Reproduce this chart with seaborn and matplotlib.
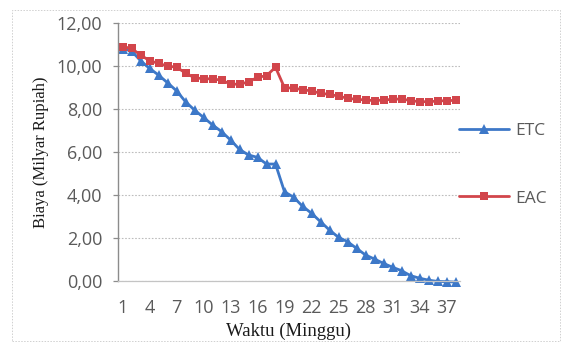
import numpy as np
import pandas as pd
import matplotlib
matplotlib.use("Agg")
import matplotlib.pyplot as plt
from matplotlib.ticker import FuncFormatter, FixedLocator
from matplotlib.patches import Rectangle
import seaborn as sns

# Weekly cost forecasts (billion rupiah)
weeks = list(range(1, 39))
etc = [10.80, 10.70, 10.25, 9.89, 9.58, 9.22, 8.85, 8.34, 7.95, 7.61,
       7.26, 6.95, 6.56, 6.12, 5.86, 5.75, 5.44, 5.44, 4.15, 3.90,
       3.48, 3.15, 2.76, 2.37, 2.03, 1.83, 1.52, 1.21, 1.02, 0.82,
       0.64, 0.48, 0.25, 0.13, 0.04, -0.02, -0.03, -0.05]
eac = [10.90, 10.82, 10.51, 10.25, 10.12, 10.00, 9.94, 9.68, 9.45, 9.41,
       9.40, 9.34, 9.16, 9.15, 9.26, 9.47, 9.55, 9.94, 8.99, 8.97,
       8.90, 8.84, 8.73, 8.68, 8.60, 8.50, 8.45, 8.42, 8.39, 8.42,
       8.45, 8.47, 8.39, 8.34, 8.34, 8.37, 8.39, 8.40]
xtick_weeks = list(range(1, 38, 3))
yticks = [0, 2, 4, 6, 8, 10, 12]

sns.set_theme(style="white")
plt.rcParams["font.family"] = ["Open Sans", "DejaVu Sans"]

df = pd.DataFrame({"Minggu": weeks, "ETC": etc, "EAC": eac})

fig = plt.figure(figsize=(5.64, 3.45), dpi=100)
fig.patch.set_facecolor("white")
ax = fig.add_axes([118 / 564, 1 - 281 / 345, 342 / 564, 258 / 345])

blue = "#3D78C8"
red = "#D2454B"
sns.lineplot(data=df, x="Minggu", y="ETC", ax=ax, color=blue, lw=2.0,
             marker="^", markersize=7.5, markeredgewidth=0, label="ETC",
             clip_on=False)
sns.lineplot(data=df, x="Minggu", y="EAC", ax=ax, color=red, lw=2.0,
             marker="s", markersize=5.3, markeredgewidth=0, label="EAC",
             clip_on=False)

ax.set_xlim(0.5, 38.5)
ax.set_ylim(0, 12)
ax.xaxis.set_major_locator(FixedLocator(xtick_weeks))
ax.set_yticks(yticks)
ax.yaxis.set_major_formatter(FuncFormatter(lambda v, p: f"{v:.2f}".replace(".", ",")))

ax.grid(axis="y", color="#BDBDBD", lw=0.8, linestyle=(0, (1.5, 1.5)))
ax.set_axisbelow(True)
for s in ["top", "right"]:
    ax.spines[s].set_visible(False)
ax.spines["left"].set_color("#8C8C8C")
ax.spines["left"].set_linewidth(1.0)
ax.spines["bottom"].set_color("#C4C4C4")
ax.spines["bottom"].set_linewidth(0.9)

ax.tick_params(axis="y", which="major", left=True, length=3.5, width=0.9,
               color="#8C8C8C", pad=8, labelsize=13, labelcolor="#5A5A5A")
ax.tick_params(axis="x", which="major", bottom=False, length=0, pad=13,
               labelsize=13, labelcolor="#5A5A5A")

ax.set_xlabel("Waktu (Minggu)", family=["Liberation Serif"], fontsize=13.5,
              color="#1A1A1A", labelpad=4)
ax.set_ylabel("Biaya (Milyar Rupiah)", family=["Liberation Serif"], fontsize=12,
              color="#1A1A1A", labelpad=5)

leg = ax.legend(loc="upper left", bbox_to_anchor=(459 / 564, 1 - 123 / 345),
                bbox_transform=fig.transFigure, frameon=False, fontsize=12.5,
                handlelength=2.9, handletextpad=0.35, labelspacing=2.95,
                borderaxespad=0, borderpad=0)
for t in leg.get_texts():
    t.set_color("#5A5A5A")

# faint chart-area frame
fig.patches.append(Rectangle((12 / 564, 4 / 345), 548 / 564, 331 / 345,
                             transform=fig.transFigure, fill=False,
                             edgecolor="#D0D0D0", lw=0.7, linestyle=(0, (1.5, 1.5))))

fig.savefig("out.png", dpi=100, facecolor="white")
